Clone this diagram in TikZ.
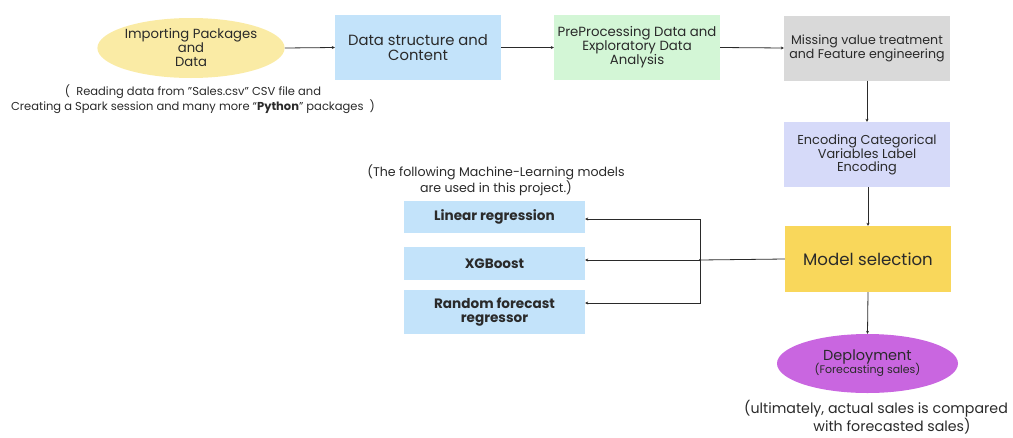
\documentclass[tikz,border=0pt]{standalone}
\usepackage{fontspec}
\setmainfont{Poppins}
\usetikzlibrary{arrows.meta,shapes.geometric}

\definecolor{cYellowPale}{HTML}{FAEBA5}
\definecolor{cBlue}{HTML}{C3E3FA}
\definecolor{cGreen}{HTML}{D3F6D6}
\definecolor{cGrey}{HTML}{D9D9D9}
\definecolor{cLavender}{HTML}{D6DAF9}
\definecolor{cGold}{HTML}{F9D75B}
\definecolor{cPurple}{HTML}{C966E0}
\definecolor{cInk}{HTML}{2A2A2A}

\begin{document}
\begin{tikzpicture}[x=1pt,y=-1pt,
  every node/.style={text=cInk},
  stepbox/.style={rectangle, inner sep=0pt, align=center,
    minimum width=166pt, minimum height=65pt},
  mlbox/.style={rectangle, fill=cBlue, inner sep=0pt, align=center,
    minimum width=181pt, font=\fontsize{13.6}{14}\selectfont\bfseries},
  oval/.style={ellipse, inner sep=0pt, align=center},
  note/.style={align=center, inner sep=0pt},
  link/.style={draw=cInk, line width=0.8pt, -{Stealth[length=3pt,width=3pt]}},
  plain/.style={draw=cInk, line width=0.8pt}]
\useasboundingbox (0,0) rectangle (1013,437);

% top row
\node[oval, fill=cYellowPale, minimum width=180pt, minimum height=60pt,
      font=\fontsize{13.2}{14}\selectfont] (imp) at (191,48)
      {Importing Packages\\and\\Data};
\node[stepbox, fill=cBlue, font=\fontsize{14.8}{15}\selectfont] (data) at (418,47.5)
      {Data structure and\\Content};
\node[stepbox, fill=cGreen, font=\fontsize{13.3}{14}\selectfont] (pre) at (637,47.5)
      {PreProcessing Data and\\Exploratory Data\\Analysis};
\node[stepbox, fill=cGrey, font=\fontsize{12.6}{12.5}\selectfont] (miss) at (867,48)
      {Missing value treatment\\and Feature engineering};

\node[note, font=\fontsize{11.5}{13}\selectfont] (impnote) at (193,99.5)
      {(\ \ Reading data from "Sales.csv" CSV file and\\
       Creating a Spark session and many more “\textbf{Python}” packages\ \ )};

% right column
\node[stepbox, fill=cLavender, font=\fontsize{12.9}{13}\selectfont] (enc) at (867,154.5)
      {Encoding Categorical\\Variables Label\\Encoding};
\node[stepbox, fill=cGold, minimum height=66pt, font=\fontsize{16.6}{17}\selectfont] (model) at (868,259)
      {Model selection};
\node[oval, fill=cPurple, minimum width=181pt, minimum height=59pt] (dep) at (867.5,363.5)
      {{\fontsize{14.5}{14}\selectfont Deployment}\\[-2pt]{\fontsize{11}{11}\selectfont (Forecasting sales)}};
\node[note, font=\fontsize{14.2}{14.6}\selectfont] (depnote) at (876,417.5)
      {(ultimately, actual sales is compared\\\hspace*{32pt}with forecasted sales)};

% model candidates
\node[note, font=\fontsize{12.6}{14}\selectfont] (mlnote) at (496,180)
      {(The following Machine-Learning models\\are used in this project.)};
\node[mlbox, minimum height=32pt] (lin) at (494.5,217) {Linear regression};
\node[mlbox, minimum height=33pt] (xgb) at (494.5,263.5) {XGBoost};
\node[mlbox, minimum height=44pt] (rnd) at (494.5,312) {Random forecast\\regressor};

% connectors
\draw[link] (imp.east) -- (data.west);
\draw[link] (data.east) -- (pre.west);
\draw[link] (pre.east) -- (miss.west);
\draw[link] (miss.south) -- (enc.north);
\draw[link] ([xshift=1pt]enc.south) -- ([xshift=1pt]model.north -| enc.south);
\draw[link] (model.south) -- (dep.north);

\coordinate (fork) at (700,260);
\draw[plain] (model.west) -- (fork);
\draw[link] (fork) -- (xgb.east |- fork);
\draw[link] (fork) |- ([yshift=-2pt]lin.east);
\draw[link] (fork) |- ([yshift=9pt]rnd.east);
\fill[cInk] (fork) circle (1.1pt);
\end{tikzpicture}
\end{document}
